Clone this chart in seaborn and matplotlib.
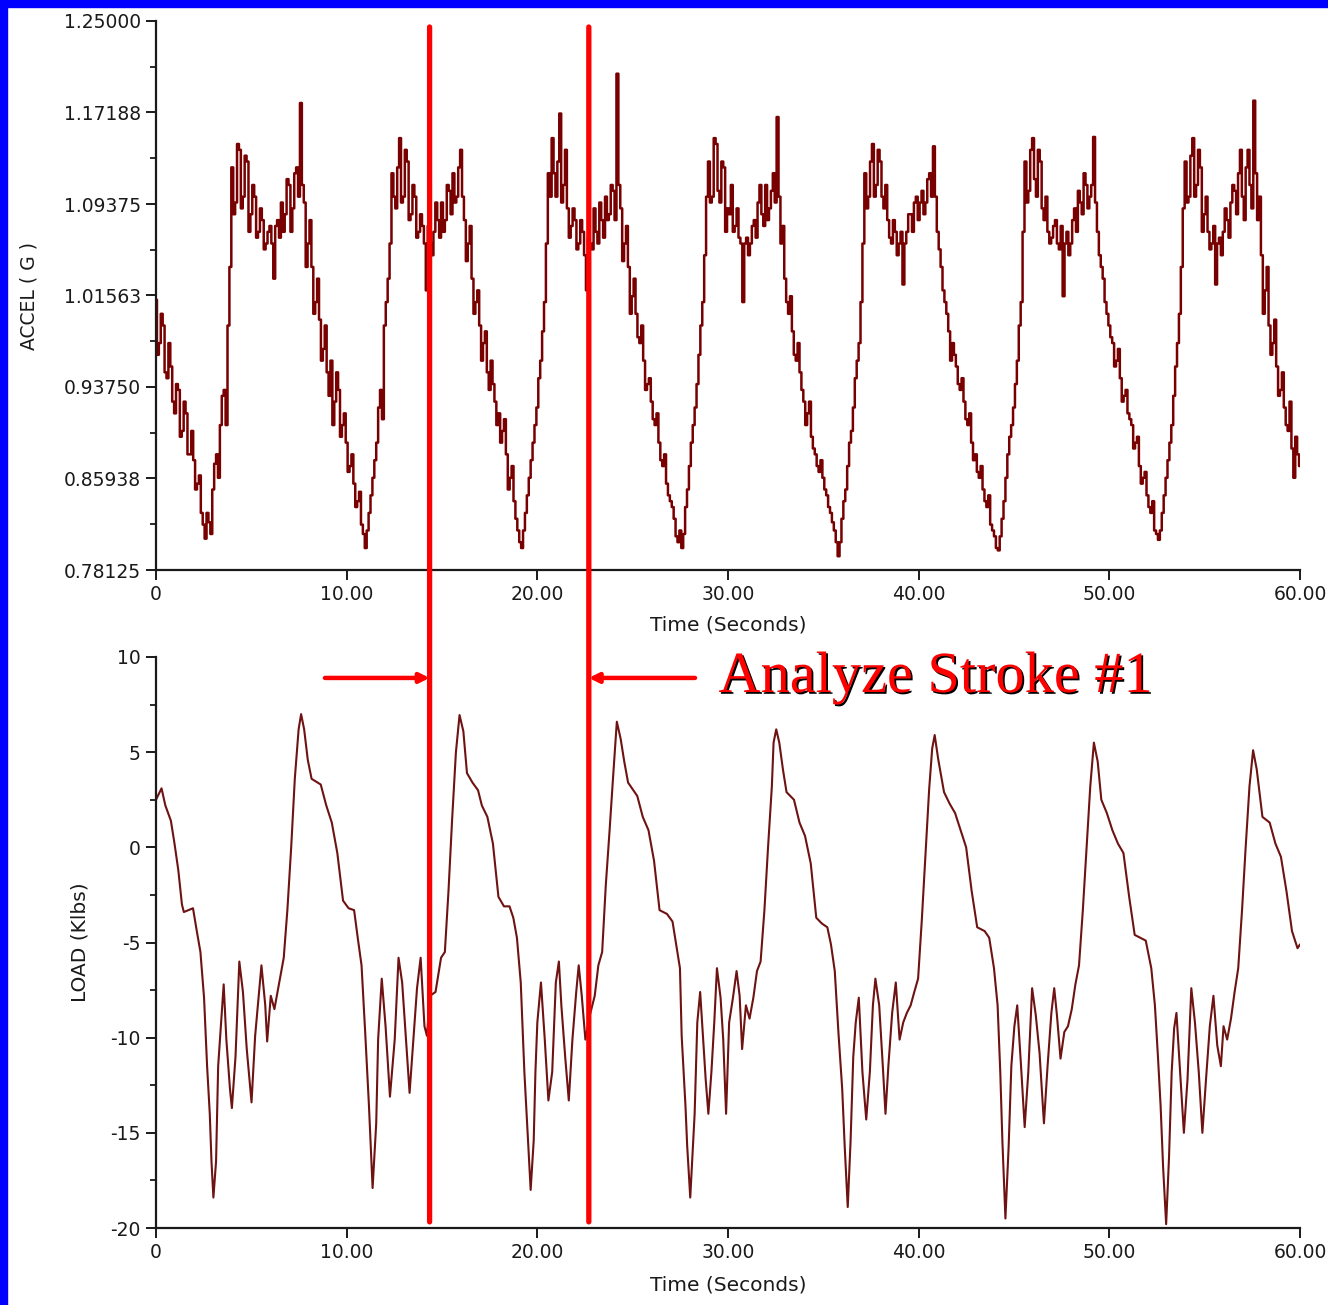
import numpy as np
import pandas as pd
import matplotlib
matplotlib.use("Agg")
import matplotlib.pyplot as plt
import seaborn as sns
from matplotlib.patches import Rectangle, ConnectionPatch
import matplotlib.patheffects as pe
from matplotlib.ticker import FixedLocator

# ---------------- data ----------------
accel_dt = 0.2  # seconds between samples in accel_g (t = 0, 0.2, ... 60)
accel_g = [
    1.012, 0.975, 0.990, 0.945, 0.955,
    0.915, 0.935, 0.900, 0.915, 0.880,
    0.875, 0.855, 0.830, 0.808, 0.822,
    0.850, 0.880, 0.905, 0.935, 0.990,
    1.125, 1.095, 1.140, 1.100, 1.130,
    1.085, 1.100, 1.070, 1.080, 1.060,
    1.075, 1.030, 1.080, 1.095, 1.085,
    1.110, 1.090, 1.125, 1.180, 1.095,
    1.060, 1.040, 1.010, 0.995, 0.970,
    0.950, 0.960, 0.925, 0.935, 0.905,
    0.890, 0.870, 0.855, 0.840, 0.820,
    0.800, 0.830, 0.860, 0.890, 0.935,
    0.990, 1.030, 1.120, 1.090, 1.150,
    1.100, 1.130, 1.085, 1.100, 1.070,
    1.075, 1.020, 1.060, 1.070, 1.080,
    1.095, 1.080, 1.105, 1.120, 1.100,
    1.140, 1.080, 1.060, 1.030, 1.010,
    0.990, 0.975, 0.950, 0.960, 0.925,
    0.915, 0.900, 0.880, 0.860, 0.840,
    0.815, 0.800, 0.830, 0.860, 0.890,
    0.920, 0.960, 1.010, 1.120, 1.150,
    1.100, 1.171, 1.110, 1.090, 1.075,
    1.080, 1.060, 1.070, 1.020, 1.060,
    1.090, 1.060, 1.080, 1.100, 1.085,
    1.105, 1.205, 1.090, 1.060, 1.040,
    1.015, 1.000, 0.975, 0.960, 0.940,
    0.925, 0.905, 0.890, 0.870, 0.855,
    0.840, 0.825, 0.805, 0.800, 0.835,
    0.870, 0.905, 0.940, 0.990, 1.050,
    1.130, 1.100, 1.145, 1.095, 1.125,
    1.090, 1.110, 1.075, 1.065, 1.010,
    1.065, 1.060, 1.080, 1.095, 1.085,
    1.110, 1.090, 1.120, 1.168, 1.060,
    1.030, 1.000, 0.985, 0.960, 0.950,
    0.925, 0.915, 0.895, 0.880, 0.865,
    0.860, 0.845, 0.830, 0.815, 0.793,
    0.825, 0.850, 0.890, 0.920, 0.960,
    1.010, 1.120, 1.100, 1.145, 1.110,
    1.130, 1.090, 1.080, 1.060, 1.070,
    1.060, 1.025, 1.070, 1.085, 1.095,
    1.080, 1.105, 1.095, 1.120, 1.143,
    1.070, 1.040, 1.010, 0.985, 0.975,
    0.955, 0.935, 0.925, 0.905, 0.890,
    0.880, 0.860, 0.850, 0.835, 0.820,
    0.810, 0.798, 0.825, 0.860, 0.895,
    0.920, 0.960, 1.010, 1.130, 1.105,
    1.150, 1.100, 1.130, 1.080, 1.070,
    1.065, 1.080, 1.055, 1.015, 1.070,
    1.060, 1.090, 1.105, 1.085, 1.110,
    1.100, 1.151, 1.070, 1.040, 1.010,
    0.990, 0.975, 0.960, 0.945, 0.930,
    0.915, 0.905, 0.890, 0.870, 0.860,
    0.845, 0.830, 0.815, 0.807, 0.830,
    0.860, 0.890, 0.930, 0.975, 1.040,
    1.130, 1.100, 1.150, 1.110, 1.125,
    1.085, 1.070, 1.060, 1.025, 1.065,
    1.070, 1.080, 1.095, 1.105, 1.120,
    1.100, 1.125, 1.110, 1.182, 1.080,
    1.050, 1.020, 0.990, 0.975, 0.955,
    0.935, 0.920, 0.900, 0.885, 0.895,
    0.870,
]
# in-between samples of the noisy accel band (t = 0.1, 0.3, ... 59.9)
accel_g_mid = [
    0.965, 1.000, 0.950, 0.975, 0.925,
    0.940, 0.895, 0.925, 0.880, 0.900,
    0.850, 0.862, 0.820, 0.830, 0.812,
    0.872, 0.860, 0.930, 0.905, 1.040,
    1.085, 1.145, 1.090, 1.135, 1.070,
    1.110, 1.065, 1.090, 1.055, 1.070,
    1.060, 1.075, 1.065, 1.070, 1.115,
    1.070, 1.120, 1.100, 1.110, 1.040,
    1.080, 1.000, 1.030, 0.960, 0.990,
    0.930, 0.905, 0.950, 0.895, 0.915,
    0.865, 0.880, 0.835, 0.848, 0.812,
    0.815, 0.845, 0.875, 0.920, 0.910,
    1.010, 1.060, 1.100, 1.125, 1.095,
    1.140, 1.080, 1.110, 1.065, 1.085,
    1.060, 1.075, 1.050, 1.095, 1.065,
    1.070, 1.110, 1.085, 1.095, 1.125,
    1.100, 1.045, 1.075, 1.000, 1.020,
    0.960, 0.985, 0.935, 0.940, 0.905,
    0.890, 0.910, 0.850, 0.870, 0.825,
    0.805, 0.815, 0.845, 0.875, 0.905,
    0.945, 0.985, 1.060, 1.100, 1.120,
    1.130, 1.095, 1.140, 1.065, 1.090,
    1.055, 1.080, 1.050, 1.065, 1.055,
    1.070, 1.095, 1.065, 1.080, 1.110,
    1.080, 1.110, 1.045, 1.075, 1.000,
    1.030, 0.980, 0.990, 0.935, 0.945,
    0.910, 0.915, 0.875, 0.880, 0.845,
    0.835, 0.810, 0.815, 0.812, 0.850,
    0.890, 0.920, 0.965, 1.010, 1.100,
    1.095, 1.150, 1.105, 1.130, 1.070,
    1.085, 1.070, 1.090, 1.060, 1.060,
    1.050, 1.075, 1.065, 1.110, 1.075,
    1.080, 1.105, 1.095, 1.100, 1.075,
    1.010, 1.015, 0.965, 0.975, 0.935,
    0.905, 0.925, 0.885, 0.870, 0.875,
    0.850, 0.835, 0.822, 0.805, 0.805,
    0.840, 0.870, 0.900, 0.945, 0.975,
    1.060, 1.090, 1.130, 1.100, 1.140,
    1.100, 1.110, 1.065, 1.080, 1.050,
    1.070, 1.060, 1.085, 1.070, 1.100,
    1.095, 1.085, 1.115, 1.100, 1.100,
    1.055, 1.020, 1.000, 0.960, 0.965,
    0.940, 0.945, 0.910, 0.915, 0.875,
    0.865, 0.870, 0.840, 0.845, 0.815,
    0.800, 0.810, 0.840, 0.880, 0.905,
    0.940, 0.990, 1.070, 1.095, 1.140,
    1.115, 1.140, 1.090, 1.100, 1.060,
    1.075, 1.060, 1.075, 1.060, 1.050,
    1.080, 1.070, 1.095, 1.120, 1.090,
    1.110, 1.095, 1.050, 1.030, 1.000,
    0.980, 0.955, 0.970, 0.925, 0.935,
    0.910, 0.885, 0.895, 0.855, 0.865,
    0.835, 0.840, 0.812, 0.815, 0.845,
    0.875, 0.905, 0.955, 1.000, 1.090,
    1.095, 1.135, 1.100, 1.140, 1.070,
    1.100, 1.055, 1.075, 1.060, 1.050,
    1.090, 1.065, 1.110, 1.085, 1.140,
    1.080, 1.140, 1.090, 1.120, 1.100,
    1.000, 1.040, 0.965, 0.995, 0.930,
    0.950, 0.905, 0.925, 0.860, 0.880,
]

load_t = [
    0.00, 0.29, 0.49, 0.78, 0.97, 1.17, 1.36, 1.46, 1.94, 2.14, 2.33, 2.52, 2.68,
    2.82, 2.91, 3.01, 3.15, 3.26, 3.40, 3.55, 3.69, 3.88, 3.98, 4.17, 4.37, 4.56,
    4.76, 5.01, 5.20, 5.53, 5.73, 5.83, 6.02, 6.21, 6.50, 6.70, 6.89, 7.09, 7.28,
    7.48, 7.61, 7.77, 7.96, 8.16, 8.64, 8.93, 9.22, 9.51, 9.81, 10.10, 10.39,
    10.58, 10.78, 10.97, 11.17, 11.36, 11.55, 11.65, 11.84, 12.04, 12.27, 12.52,
    12.72, 12.91, 13.11, 13.30, 13.50, 13.69, 13.88, 14.08, 14.21, 14.37, 14.66,
    14.95, 15.15, 15.34, 15.53, 15.73, 15.92, 16.12, 16.31, 16.60, 16.89, 17.09,
    17.38, 17.67, 17.96, 18.25, 18.54, 18.74, 18.93, 19.13, 19.32, 19.51, 19.65,
    19.81, 19.90, 20.00, 20.19, 20.39, 20.58, 20.78, 20.97, 21.13, 21.26, 21.46,
    21.65, 21.84, 22.04, 22.17, 22.33, 22.52, 22.76, 23.01, 23.20, 23.40, 23.59,
    23.79, 23.98, 24.17, 24.37, 24.56, 24.76, 25.24, 25.53, 25.83, 26.12, 26.41,
    26.80, 27.09, 27.28, 27.48, 27.57, 27.77, 27.86, 28.02, 28.16, 28.25, 28.39,
    28.54, 28.70, 28.83, 28.97, 29.13, 29.28, 29.42, 29.61, 29.75, 29.90, 30.06,
    30.26, 30.45, 30.61, 30.74, 30.94, 31.13, 31.33, 31.52, 31.71, 31.91, 32.10,
    32.30, 32.39, 32.53, 32.69, 32.88, 33.07, 33.46, 33.75, 34.04, 34.34, 34.63,
    34.92, 35.21, 35.40, 35.60, 35.79, 35.99, 36.12, 36.28, 36.43, 36.57, 36.70,
    36.86, 37.05, 37.25, 37.44, 37.60, 37.73, 37.93, 38.12, 38.26, 38.41, 38.61,
    38.80, 39.00, 39.19, 39.38, 39.58, 39.77, 39.97, 40.16, 40.36, 40.55, 40.71,
    40.84, 41.03, 41.33, 41.62, 41.91, 42.20, 42.49, 42.78, 43.07, 43.46, 43.70,
    43.95, 44.14, 44.28, 44.39, 44.55, 44.72, 44.86, 45.02, 45.17, 45.37, 45.56,
    45.75, 45.95, 46.14, 46.34, 46.57, 46.76, 46.96, 47.11, 47.25, 47.44, 47.64,
    47.83, 48.03, 48.22, 48.41, 48.61, 48.80, 49.00, 49.19, 49.39, 49.58, 49.87,
    50.16, 50.45, 50.74, 51.04, 51.33, 51.62, 51.91, 52.20, 52.39, 52.55, 52.69,
    52.82, 52.98, 53.13, 53.27, 53.40, 53.52, 53.71, 53.91, 54.10, 54.30, 54.49,
    54.69, 54.88, 55.07, 55.27, 55.46, 55.66, 55.85, 55.99, 56.18, 56.38, 56.57,
    56.76, 56.96, 57.15, 57.35, 57.54, 57.73, 58.03, 58.41, 58.71, 59.00, 59.29,
    59.58, 59.87, 60.00,
]
load_klbs = [
    2.5, 3.1, 2.2, 1.4, 0.2, -1.2, -3.0, -3.4, -3.2, -4.4, -5.5, -7.9, -11.5,
    -14.0, -16.5, -18.4, -16.5, -11.5, -9.4, -7.2, -10.1, -12.7, -13.7, -11.0, -6.0, -7.6,
    -10.6, -13.4, -9.9, -6.2, -8.3, -10.2, -7.8, -8.5, -6.9, -5.8, -3.3, 0.0, 3.6,
    6.2, 7.0, 6.2, 4.6, 3.6, 3.3, 2.2, 1.3, -0.3, -2.8, -3.2, -3.3,
    -4.75, -6.2, -9.7, -13.6, -17.9, -14.5, -10.1, -6.9, -9.4, -13.1, -10.1,
    -5.8, -7.1, -10.1, -12.9, -10.1, -7.4, -5.8, -9.4, -9.9, -7.8, -7.6,
    -5.8, -5.5, -2.3, 1.45, 5.0, 6.95, 6.1, 3.9, 3.4, 3.0, 2.2,
    1.6, 0.2, -2.6, -3.1, -3.1, -3.7, -4.75, -7.1, -11.8, -15.4, -18.0,
    -15.4, -11.8, -9.2, -7.1, -10.1, -13.3, -11.8, -7.1, -6.0, -8.3, -11.0,
    -13.3, -10.1, -7.6, -6.2, -7.8, -10.1, -8.8, -7.8, -6.2, -5.5, -2.0,
    0.9, 3.8, 6.6, 5.7, 4.5, 3.4, 2.7, 1.6, 0.9, -0.7, -3.3,
    -3.5, -3.9, -5.1, -6.35, -9.9, -13.6, -15.7, -18.4, -15.7, -14.0, -9.2,
    -7.6, -10.1, -12.2, -14.0, -11.8, -9.2, -6.35, -7.9, -10.1, -14.0, -9.2,
    -7.9, -6.5, -7.8, -10.6, -8.3, -9.0, -7.9, -6.5, -6.0, -3.3, 0.0,
    3.2, 5.5, 6.2, 5.5, 4.1, 2.9, 2.5, 1.3, 0.6, -0.85, -3.7,
    -4.0, -4.2, -5.1, -6.5, -9.7, -12.7, -15.7, -18.9, -15.4, -11.0, -9.2,
    -7.9, -11.8, -14.3, -11.8, -8.3, -6.9, -8.3, -11.5, -14.0, -11.5, -8.7,
    -7.1, -10.1, -9.2, -8.7, -8.3, -7.6, -6.9, -3.9, -0.3, 3.05, 5.2,
    5.9, 4.6, 2.9, 2.3, 1.8, 0.9, 0.0, -2.3, -4.2, -4.4, -4.75,
    -6.35, -8.3, -11.8, -15.4, -19.5, -15.7, -11.5, -9.4, -8.3, -11.5, -14.7,
    -11.8, -7.4, -8.8, -10.8, -14.5, -11.5, -8.7, -7.4, -8.8, -11.1, -9.7,
    -9.4, -8.5, -7.2, -6.2, -3.3, -0.1, 3.2, 5.5, 4.5, 2.5, 1.8,
    0.9, 0.2, -0.3, -2.6, -4.6, -4.75, -4.9, -6.35, -8.3, -11.0, -13.6,
    -16.8, -19.8, -16.3, -11.8, -9.5, -8.7, -11.8, -15.0, -12.2, -7.4, -9.2,
    -11.8, -15.0, -12.2, -9.4, -7.8, -10.4, -11.5, -9.4, -10.1, -9.0, -7.6,
    -6.35, -3.3, 0.0, 3.2, 5.1, 4.1, 1.6, 1.3, 0.2, -0.5, -2.3,
    -4.4, -5.3, -5.1,
]

stroke_bounds = [14.35, 22.70]  # seconds, "Analyze Stroke #1" window

accel_ticks = [0.78125, 0.85938, 0.93750, 1.01563, 1.09375, 1.17188, 1.25000]
accel_tick_labels = ["0.78125", "0.85938", "0.93750", "1.01563", "1.09375", "1.17188", "1.25000"]
load_ticks = [-20, -15, -10, -5, 0, 5, 10]
load_tick_labels = ["-20", "-15", "-10", "-5", "0", "5", "10"]
time_ticks = [0, 10, 20, 30, 40, 50, 60]
time_tick_labels = ["0", "10.00", "20.00", "30.00", "40.00", "50.00", "60.00"]

# ---------------- figure ----------------
sns.set_style("ticks")
plt.rcParams["font.family"] = ["DejaVu Sans"]

W, H = 1328, 1305
fig = plt.figure(figsize=(W / 100, H / 100), dpi=100, facecolor="white")

# blue slide frame (left and top edges)
fig.add_artist(Rectangle((0, 0), 7 / W, 1, transform=fig.transFigure, color="#0000ff", zorder=10))
fig.add_artist(Rectangle((0, 1 - 7 / H), 1, 7 / H, transform=fig.transFigure, color="#0000ff", zorder=10))

ax1 = fig.add_axes([156 / W, 1 - 570 / H, 1144 / W, 549 / H])
ax2 = fig.add_axes([156 / W, 1 - 1228 / H, 1144 / W, 571 / H])

t_main = np.arange(len(accel_g)) * accel_dt
t_mid = np.arange(len(accel_g_mid)) * accel_dt + accel_dt / 2
accel_df = pd.concat([
    pd.DataFrame({"t": t_main, "g": accel_g}),
    pd.DataFrame({"t": t_mid, "g": accel_g_mid}),
]).sort_values("t").reset_index(drop=True)
load_df = pd.DataFrame({"t": load_t, "klbs": load_klbs})

sns.lineplot(data=accel_df, x="t", y="g", ax=ax1, color="#780000",
             linewidth=1.8, estimator=None, sort=False, drawstyle="steps-mid")
sns.lineplot(data=load_df, x="t", y="klbs", ax=ax2, color="#6e1212",
             linewidth=1.5, estimator=None, sort=False)

tick_font = 13.5
for ax, yt, ylab, ylim in [
    (ax1, accel_ticks, accel_tick_labels, (0.78125, 1.25)),
    (ax2, load_ticks, load_tick_labels, (-20, 10)),
]:
    ax.set_xlim(0, 60)
    ax.set_ylim(*ylim)
    ax.set_facecolor("white")
    sns.despine(ax=ax)
    for s in ("left", "bottom"):
        ax.spines[s].set_linewidth(1.6)
        ax.spines[s].set_color("#1a1a1a")
    ax.set_xticks(time_ticks)
    ax.set_xticklabels(time_tick_labels, fontsize=tick_font, color="#1a1a1a")
    ax.set_yticks(yt)
    ax.set_yticklabels(ylab, fontsize=tick_font, color="#1a1a1a")
    mids = [(a + b) / 2 for a, b in zip(yt[:-1], yt[1:])]
    ax.yaxis.set_minor_locator(FixedLocator(mids))
    ax.tick_params(axis="both", which="major", direction="out", length=7,
                   width=1.4, color="#1a1a1a", pad=4)
    ax.tick_params(axis="y", which="minor", direction="out", length=4,
                   width=1.3, color="#1a1a1a")
    ax.grid(False)

ax1.set_xlabel("Time (Seconds)", fontsize=14.5, color="#1a1a1a")
ax1.xaxis.set_label_coords(0.5, -0.100)
ax1.xaxis.label.set_va("center")
ax1.set_ylabel("ACCEL ( G )", fontsize=13.5, color="#1a1a1a")
ax1.yaxis.set_label_coords(-0.111, 0.5)
ax1.yaxis.label.set_va("center")

ax2.set_xlabel("Time (Seconds)", fontsize=14.5, color="#1a1a1a")
ax2.xaxis.set_label_coords(0.5, -0.100)
ax2.xaxis.label.set_va("center")
ax2.set_ylabel("LOAD (Klbs)", fontsize=14.5, color="#1a1a1a")
ax2.yaxis.set_label_coords(-0.066, 0.5)
ax2.yaxis.label.set_va("center")

# red stroke-window lines spanning both plots
for t in stroke_bounds:
    con = ConnectionPatch(xyA=(t, 1.2449), coordsA=ax1.transData,
                          xyB=(t, -19.68), coordsB=ax2.transData,
                          color="#ff0000", linewidth=3.8, zorder=20)
    fig.add_artist(con)

# arrows pointing at the window
arrow_y = 8.9
ax2.annotate("", xy=(stroke_bounds[0], arrow_y), xytext=(8.86, arrow_y),
             arrowprops=dict(arrowstyle="-|>", color="#ff0000", lw=3.2,
                             mutation_scale=14, shrinkA=0, shrinkB=0),
             annotation_clip=False, zorder=21)
ax2.annotate("", xy=(stroke_bounds[1], arrow_y), xytext=(28.27, arrow_y),
             arrowprops=dict(arrowstyle="-|>", color="#ff0000", lw=3.2,
                             mutation_scale=14, shrinkA=0, shrinkB=0),
             annotation_clip=False, zorder=21)

ax2.text(0.4917, 0.9387, "Analyze Stroke #1", transform=ax2.transAxes,
         ha="left", va="baseline", fontsize=42, color="#ff0000",
         family=["Liberation Serif", "DejaVu Serif"], zorder=22,
         path_effects=[pe.withSimplePatchShadow(offset=(1.3, -1.3),
                                                shadow_rgbFace="black", alpha=1.0)])

fig.savefig("out.png", dpi=100, facecolor="white")
